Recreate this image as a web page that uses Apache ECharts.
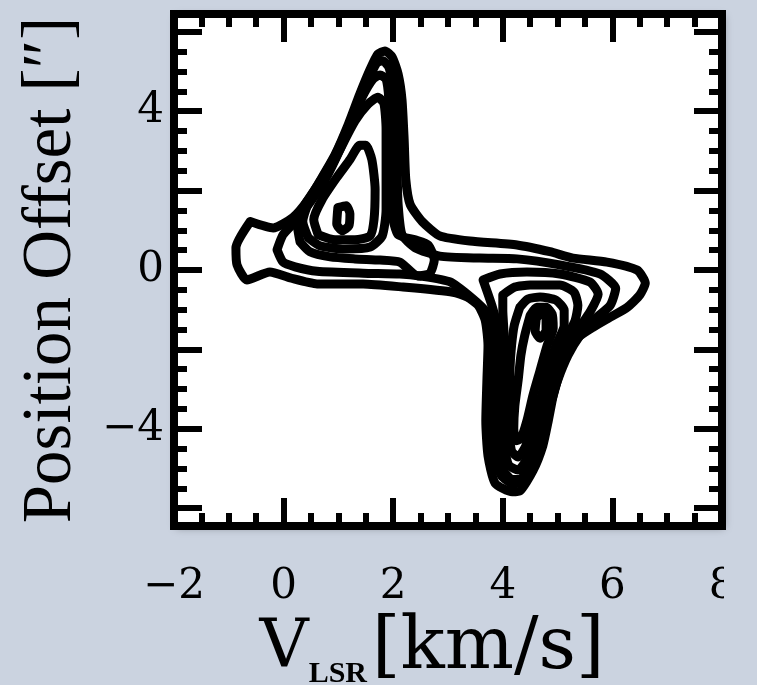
<!DOCTYPE html>
<html>
<head>
<meta charset="utf-8">
<script src="https://cdn.jsdelivr.net/npm/echarts@6/dist/echarts.min.js"></script>
<style>html,body{margin:0;padding:0;background:#cbd3e0;}#c{width:757px;height:685px;}</style>
</head>
<body>
<div id="c"></div>
<script>
// ---- tick values / labels ----
const xMinorTicks = [-1.5,-1,-0.5,0,0.5,1,1.5,2,2.5,3,3.5,4,4.5,5,5.5,6,6.5,7,7.5];
const xMajorTicks = [0,2,4,6];
const xTickLabels = [-2,0,2,4,6,8];
const yMinorTicks = [-6,-5.5,-5,-4.5,-4,-3.5,-3,-2.5,-2,-1.5,-1,-0.5,0,0.5,1,1.5,2,2.5,3,3.5,4,4.5,5,5.5,6];
const yMajorTicks = [-6,-4,-2,0,2,4,6];
const yTickLabels = [-4,0,4];

// ---- contour paths: [V_LSR (km/s), offset (arcsec)] ----
const contour1 = [[-0.61,1.22],[-0.19,1.06],[0.17,1.32],[0.45,1.77],[0.70,2.33],[0.94,2.91],[1.18,3.67],[1.39,4.43],[1.58,5.06],[1.72,5.44],[1.85,5.52],[1.98,5.37],[2.09,4.94],[2.16,4.30],[2.20,3.29],[2.23,2.28],[2.31,1.65],[2.53,1.22],[2.85,0.86],[3.40,0.73],[4.26,0.63],[4.86,0.46],[5.28,0.30],[5.90,0.20],[6.45,0.00],[6.60,-0.33],[6.50,-0.63],[6.27,-0.94],[5.96,-1.19],[5.65,-1.44],[5.37,-1.70],[5.19,-2.03],[5.04,-2.53],[4.92,-3.16],[4.83,-3.80],[4.73,-4.43],[4.55,-5.06],[4.31,-5.57],[4.17,-5.59],[3.86,-5.37],[3.73,-4.68],[3.69,-3.80],[3.71,-2.78],[3.73,-1.90],[3.68,-1.27],[3.55,-0.89],[3.35,-0.68],[3.09,-0.56],[2.18,-0.43],[1.45,-0.35],[0.61,-0.35],[0.12,-0.20],[-0.25,-0.05],[-0.67,-0.25],[-0.85,0.13],[-0.87,0.56]];
const contour2 = [[-0.12,0.51],[-0.01,0.89],[0.21,1.22],[0.48,1.70],[0.76,2.28],[1.03,3.04],[1.30,3.92],[1.54,4.76],[1.70,5.22],[1.81,5.27],[1.92,5.11],[2.01,4.56],[2.05,3.54],[2.07,2.53],[2.09,1.65],[2.16,0.89],[2.40,0.56],[2.85,0.35],[3.58,0.30],[4.26,0.28],[5.04,0.13],[5.77,-0.10],[6.06,-0.46],[5.96,-0.89],[5.65,-1.27],[5.41,-1.65],[5.19,-2.15],[5.00,-2.78],[4.85,-3.42],[4.72,-4.05],[4.57,-4.68],[4.36,-5.25],[4.20,-5.40],[3.97,-5.17],[3.86,-4.68],[3.84,-3.80],[3.85,-2.91],[3.87,-2.15],[3.84,-1.52],[3.70,-1.06],[3.44,-0.71],[3.04,-0.30],[2.49,-0.15],[2.12,-0.10],[1.45,-0.08],[0.61,-0.03],[0.21,0.08],[-0.01,0.20]];
const contour3 = [[0.30,0.71],[0.25,1.14],[0.39,1.65],[0.63,2.15],[0.90,2.78],[1.18,3.60],[1.43,4.35],[1.63,4.81],[1.76,4.91],[1.87,4.81],[1.92,4.30],[1.94,3.29],[1.94,2.28],[1.98,1.39],[2.09,0.89],[2.40,0.76],[2.64,0.63],[2.75,0.25],[2.67,-0.08],[2.45,-0.15],[2.12,0.20],[1.76,0.25],[1.30,0.28],[0.85,0.33],[0.48,0.46]];
const contour4 = [[0.45,0.81],[0.35,1.22],[0.48,1.77],[0.76,2.33],[1.03,3.04],[1.30,3.75],[1.54,4.18],[1.72,4.35],[1.83,4.20],[1.87,3.54],[1.87,2.53],[1.87,1.52],[1.80,0.86],[1.58,0.58],[1.12,0.53],[0.66,0.61]];
const contour5 = [[0.63,0.89],[0.55,1.27],[0.70,1.77],[0.97,2.33],[1.21,2.78],[1.39,3.14],[1.50,3.14],[1.61,2.78],[1.67,2.03],[1.65,1.27],[1.58,0.86],[1.30,0.76],[0.94,0.76]];
const contour6 = [[0.99,1.57],[1.14,1.62],[1.21,1.42],[1.19,1.11],[1.07,0.99],[0.97,1.16]];
const contour7 = [[3.64,-0.25],[3.95,-0.10],[4.44,-0.05],[5.04,-0.10],[5.59,-0.30],[5.74,-0.61],[5.59,-1.06],[5.37,-1.52],[5.19,-2.03],[5.04,-2.58],[4.92,-3.16],[4.77,-3.80],[4.64,-4.35],[4.50,-4.94],[4.31,-5.28],[4.17,-5.28],[4.01,-5.04],[3.93,-4.56],[3.92,-3.80],[3.94,-3.04],[3.96,-2.28],[3.92,-1.52],[3.80,-0.89]];
const contour8 = [[4.00,-0.63],[4.22,-0.43],[4.50,-0.38],[5.04,-0.38],[5.30,-0.56],[5.37,-0.89],[5.32,-1.27],[5.14,-1.77],[4.95,-2.33],[4.83,-3.04],[4.68,-3.67],[4.57,-4.30],[4.42,-4.81],[4.28,-5.04],[4.11,-4.92],[4.04,-4.56],[4.02,-3.80],[4.03,-3.04],[4.04,-2.28],[4.02,-1.52],[4.00,-1.01]];
const contour9 = [[4.31,-0.94],[4.46,-0.73],[4.68,-0.68],[4.97,-0.76],[5.12,-1.01],[5.12,-1.39],[4.97,-1.90],[4.83,-2.53],[4.68,-3.29],[4.55,-3.92],[4.42,-4.43],[4.28,-4.71],[4.16,-4.56],[4.12,-4.05],[4.12,-3.29],[4.13,-2.53],[4.16,-1.90],[4.21,-1.39]];
const contour10 = [[4.50,-1.14],[4.62,-0.94],[4.79,-0.94],[4.90,-1.11],[4.92,-1.47],[4.81,-1.90],[4.68,-2.53],[4.55,-3.16],[4.44,-3.80],[4.33,-4.25],[4.24,-4.30],[4.20,-4.00],[4.22,-3.42],[4.28,-2.78],[4.33,-2.15],[4.40,-1.65]];
const contour11 = [[4.61,-1.22],[4.70,-1.09],[4.79,-1.22],[4.79,-1.52],[4.68,-1.72],[4.59,-1.54]];

const contours = [contour1, contour2, contour3, contour4, contour5, contour6,
                  contour7, contour8, contour9, contour10, contour11];

const BG = '#cbd3e0';
const minus = v => (v < 0 ? '\u2212' + Math.abs(v) : String(v));
const tickFont = 'DejaVu Serif';

function xAx(pos, values, len, labels) {
  return {
    type: 'value', position: pos, min: -2, max: 8,
    splitLine: {show: false},
    axisLine: {show: len > 20, onZero: false, lineStyle: {color: '#000', width: 8, cap: 'square'}},
    axisTick: {show: true, inside: true, length: len, customValues: values, lineStyle: {color: '#000', width: 6}},
    axisLabel: labels ? {show: true, customValues: labels, formatter: minus, margin: 40,
      fontFamily: tickFont, fontSize: 42, color: '#000'} : {show: false}
  };
}
function yAx(pos, values, len, labels) {
  return {
    type: 'value', position: pos, min: -6.45, max: 6.45,
    splitLine: {show: false},
    axisLine: {show: len > 20, onZero: false, lineStyle: {color: '#000', width: 8, cap: 'square'}},
    axisTick: {show: true, inside: true, length: len, customValues: values, lineStyle: {color: '#000', width: 6}},
    axisLabel: labels ? {show: true, customValues: labels, formatter: minus, margin: 10,
      fontFamily: tickFont, fontSize: 42, color: '#000'} : {show: false}
  };
}

const xAxes = [xAx('bottom', xMajorTicks, 28, xTickLabels), xAx('bottom', xMinorTicks, 13, null),
               xAx('top', xMajorTicks, 28, null), xAx('top', xMinorTicks, 13, null)];
xAxes[0].name = '{v|V}{s|LSR}{n|[km/s]}';
xAxes[0].nameLocation = 'middle';
xAxes[0].nameGap = 72;
xAxes[0].nameTextStyle = {
  padding: [0, 32, 0, 0],
  rich: {
    v: {fontFamily: 'DejaVu Serif', fontSize: 68, color: '#000'},
    s: {fontFamily: 'Liberation Serif', fontWeight: 'bold', fontSize: 30, color: '#000', padding: [50, 5, 0, 0]},
    n: {fontFamily: 'DejaVu Serif', fontSize: 73, color: '#000'}
  }
};
const yAxes = [yAx('left', yMajorTicks, 28, yTickLabels), yAx('left', yMinorTicks, 13, null),
               yAx('right', yMajorTicks, 28, null), yAx('right', yMinorTicks, 13, null)];
yAxes[0].name = 'Position Offset [\u2033]';
yAxes[0].nameLocation = 'middle';
yAxes[0].nameGap = 88;
yAxes[0].nameTextStyle = {fontFamily: 'Liberation Serif', fontSize: 69, color: '#000'};

const chart = echarts.init(document.getElementById('c'), null, {renderer: 'canvas'});
chart.setOption({
  animation: false,
  backgroundColor: BG,
  grid: {left: 174, right: 35, top: 14, bottom: 159, show: true, backgroundColor: '#ffffff', borderWidth: 0,
         outerBoundsMode: 'none', containLabel: false,
         shadowBlur: 8, shadowColor: 'rgba(0,0,0,0.35)', shadowOffsetX: 2, shadowOffsetY: 2},
  xAxis: xAxes,
  yAxis: yAxes,
  graphic: [{type: 'rect', left: 724, top: 562, z: 100, silent: true,
             shape: {width: 33, height: 50}, style: {fill: BG}}],
  series: contours.map(c => ({
    type: 'line', xAxisIndex: 0, yAxisIndex: 0,
    data: c.concat([c[0]]),
    symbol: 'none', showSymbol: false, smooth: 0.2, silent: true,
    lineStyle: {color: '#000', width: 9, join: 'round', cap: 'round'}
  }))
});
</script>
</body>
</html>
